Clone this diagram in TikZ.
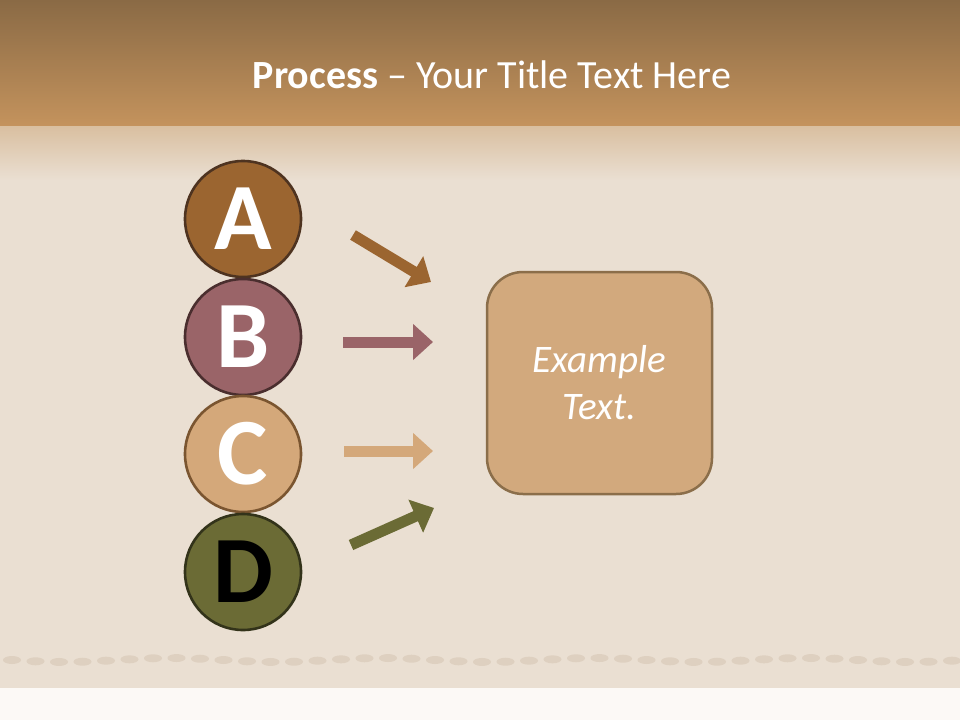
\documentclass[tikz,border=0pt]{standalone}
\usepackage{fontspec}
\setmainfont{Carlito}
\usetikzlibrary{arrows.meta}
\definecolor{bandtop}{HTML}{8A6A45}
\definecolor{bandbot}{HTML}{C4935D}
\definecolor{parch}{HTML}{EADFD2}
\definecolor{parchtop}{HTML}{D9BFA0}
\definecolor{paper}{HTML}{FCF9F6}
\definecolor{stitch}{HTML}{DED0C0}
\definecolor{colA}{HTML}{9B6530}
\definecolor{colB}{HTML}{9A6468}
\definecolor{colC}{HTML}{D4A87A}
\definecolor{colD}{HTML}{6B6B35}
\definecolor{ringA}{HTML}{4E3320}
\definecolor{ringB}{HTML}{4A2E2E}
\definecolor{ringC}{HTML}{7A5530}
\definecolor{ringD}{HTML}{33331A}
\definecolor{boxfill}{HTML}{D2A97D}
\definecolor{boxline}{HTML}{8B6E4A}
\tikzset{
  letter/.style={circle, minimum size=116pt, inner sep=0pt, line width=2.6pt,
    font=\fontsize{95}{95}\selectfont\bfseries},
  flowarrow/.style={line width=11pt, -{Triangle[length=20pt,width=35pt]}},
  example/.style={draw=boxline, fill=boxfill, line width=2.5pt, rounded corners=36pt,
    minimum width=225pt, minimum height=222pt, text=white,
    font=\fontsize{39}{47}\selectfont\itshape, align=center},
}
\begin{document}
\begin{tikzpicture}[x=1pt,y=-1pt]
\useasboundingbox (0,0) rectangle (960,720);
% background
\fill[parch] (0,0) rectangle (960,720);
\shade[top color=bandtop, bottom color=bandbot] (0,0) rectangle (960,126);
\shade[top color=parchtop, bottom color=parch] (0,126) rectangle (960,180);
\fill[paper] (0,688) rectangle (960,720);
% stitching
\foreach \i in {0,...,40} {
  \fill[stitch] ({12+\i*23.5},{660+2*sin(\i*40)}) ellipse (9pt and 4pt);
}
% title
\node[text=white, font=\fontsize{40}{40}\selectfont] (title) at (492,75)
  {\textbf{Process} – Your Title Text Here};
% circles
\node[letter, fill=colA, draw=ringA, text=white] (A) at (243,219) {A};
\node[letter, fill=colB, draw=ringB, text=white] (B) at (243,337) {B};
\node[letter, fill=colC, draw=ringC, text=white] (C) at (243,454) {C};
\node[letter, fill=colD, draw=ringD, text=black] (D) at (243,572) {D};
% box
\node[example] (box) at (599.5,383) {Example\\Text.};
% arrow endpoints
\coordinate (a1) at (353,235); \coordinate (a2) at (431,282);
\coordinate (b1) at (343,342); \coordinate (b2) at (433,342);
\coordinate (c1) at (344,451); \coordinate (c2) at (433,451);
\coordinate (d1) at (351,545); \coordinate (d2) at (434,508);
\draw[flowarrow, draw=colA, fill=colA] (a1) -- (a2);
\draw[flowarrow, draw=colB, fill=colB] (b1) -- (b2);
\draw[flowarrow, draw=colC, fill=colC] (c1) -- (c2);
\draw[flowarrow, draw=colD, fill=colD] (d1) -- (d2);
\end{tikzpicture}
\end{document}
